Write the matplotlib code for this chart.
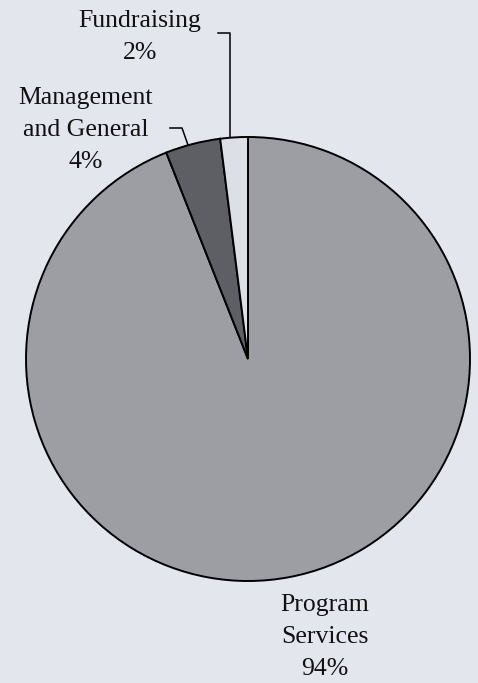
import matplotlib
matplotlib.use("Agg")
import matplotlib.pyplot as plt

categories = ["Program\nServices", "Management\nand General", "Fundraising"]
values = [94, 4, 2]
pct_labels = ["94%", "4%", "2%"]
colors = ["#9d9ea3", "#5e5f64", "#dddfe6"]
bg = "#e4e6ee"

W, H = 478, 683
fig = plt.figure(figsize=(W / 100, H / 100), dpi=100, facecolor=bg)
ax = fig.add_axes([0, 0, 1, 1])
ax.set_facecolor(bg)

cx, cy, r = 248, H - 359, 222
ax.pie(values, colors=colors, startangle=90, counterclock=False,
       center=(cx, cy), radius=r, frame=True,
       wedgeprops=dict(edgecolor="black", linewidth=1.4))
ax.set_xlim(0, W)
ax.set_ylim(0, H)
ax.set_aspect("equal")
ax.axis("off")

font = dict(family="Liberation Serif", fontsize=18.5, color="#111111",
            ha="center", va="center", linespacing=1.6)

ax.text(140, H - 37, categories[2] + "\n" + pct_labels[2], **font)
ax.text(86, H - 130, categories[1] + "\n" + pct_labels[1], **font)
ax.text(325, H - 637, categories[0] + "\n" + pct_labels[0], **font)

# leader lines
ax.plot([218, 230, 230], [H - 33, H - 33, H - 137], color="black", lw=1.1)
ax.plot([170, 182, 188], [H - 128, H - 128, H - 145], color="black", lw=1.1)

fig.savefig("out.png", dpi=100, facecolor=bg)
